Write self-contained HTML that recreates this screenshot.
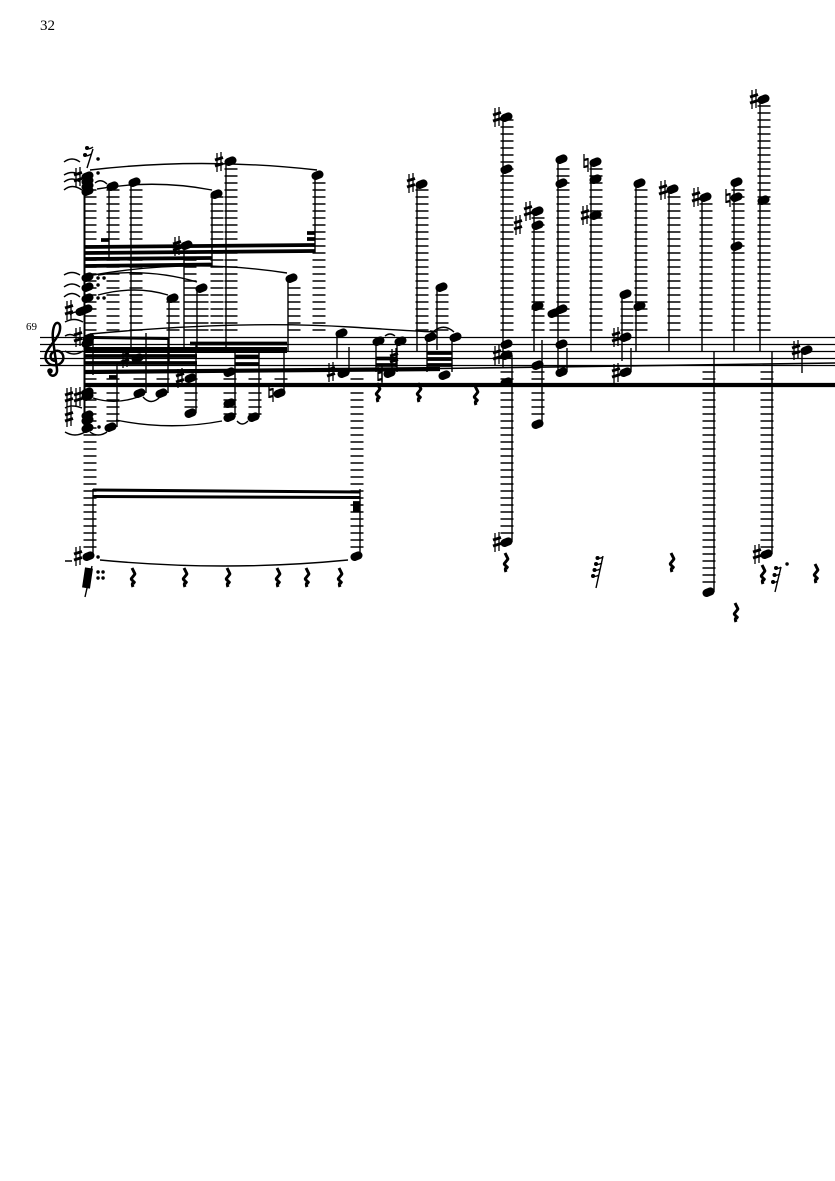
<!DOCTYPE html>
<html>
<head>
<meta charset="utf-8">
<style>
html,body{margin:0;padding:0;background:#fff}
svg{display:block}
text{font-family:"Liberation Serif",serif;fill:#000}
path{fill:none;stroke:#000}
</style>
</head>
<body>
<svg xmlns="http://www.w3.org/2000/svg" width="835" height="1181" viewBox="0 0 835 1181">
<text x="40" y="30" font-size="15">32</text>
<text x="26" y="330" font-size="11">69</text>

<!-- staff -->
<path stroke="#a0a0a0" stroke-width="1.3" d="M40 337.500H835M40 344.500H835M40 351.500H835M40 358.500H835M40 365.500H835"/>

<!-- clef -->
<path stroke-width="2.5" d="M56 361C50 361 49 355 53 352C59 348 65 354 63 360C60 367 49 367 46 360C43 352 53 344 57 337C61 331 61 324 58 323C54 322 52 331 53 340L57 369C58 377 49 378 49 371"/>
<circle cx="50" cy="371" r="2.8" fill="#000"/>

<!-- ledger columns -->
<path stroke="#444" stroke-width="13" stroke-dasharray="1.500 5.500" d="M90 189.300V331M113 189.300V331M136 189.300V331M173 301.300V331M190 252.300V331M202 294.300V331M217 196.300V331M231 168.300V331M294 287.300V331M319 182.300V331M422 189.300V331M442 294.300V331M507 119.300V331M538 217.300V331M563 168.300V331M556 315.300V331M596 168.300V331M627 301.300V331M641 189.300V331M674 196.300V331M706 203.300V331M738 189.300V331M764 105.300V331M90 371.300V550M113 378.300V422M140 378.300V380M163 378.300V380M191 378.300V408M230 378.300V415M255 378.300V415M281 378.300V380M357 378.300V550M507 371.300V536M538 371.300V415M709 371.300V586M767 371.300V548"/>

<!-- stems -->
<path stroke="#222" stroke-width="1.4" d="M109 186V258M131 182V350M212 194V266M226 161V349M315 175V253M169 298V363M184 245V349M197 288V347M288 278V351M117 427V362M146 393V333M168 393V337M196 413V345M235 417V348M259 417V352M284 393V350M337 333V359M349 347V373M376 341V372M397 341V372M382 365V382M427 337V372M452 337V372M437 287V350M417 184V351M503 117V367M512 355V542M534 211V351M542 340V424M558 159V370M567 348V372M591 162V351M622 294V361M631 348V372M636 183V351M669 189V351M702 197V351M734 182V351M760 99V351M714 351V592M772 351V554M802 350V373M93 338V375M93 489V556M360 489V556"/>
<path stroke-width="2" d="M84.500 176V428"/>

<!-- beams -->
<path stroke-width="3.800" d="M84 247L315 245M84 253L315 251M84 259L212 258M84 266L212 264.500M101 240H109M307 233H315M307 239H315M84 356H197M84 363H197M235 356.500H259M235 364H259M190 343.500H287M376 358.500H397M376 365H397M427 353H452M427 359H452M427 365H452M353 503H360M353 507H360M353 510.500H360M109 377H117"/>
<path stroke-width="3" d="M93 337.500L168 338.500M93 490L360 492M93 496.500L360 497.500"/>
<path stroke-width="6" d="M84 350H287"/>
<path stroke-width="4.200" d="M84 372L440 369M84 385H835"/>
<path stroke-width="1.600" d="M440 368.500L835 363"/>

<!-- noteheads -->
<path stroke-width="8" stroke-linecap="round" d="M85.500 177l4-1.600M85.500 182l4-1.600M85.500 187l4-1.600M85.500 192l4-1.600M110.500 187l4-1.600M132.500 183l4-1.600M214.500 195l4-1.600M228.500 162l4-1.600M315.500 176l4-1.600M184.500 246l4-1.600M170.500 299l4-1.600M199.500 289l4-1.600M289.500 279l4-1.600M85.500 278l4-1.600M85.500 288l4-1.600M85.500 299l4-1.600M79.500 312l4-1.600M84.500 310l4-1.600M86.500 339l4-1.600M85.500 344l4-1.600M137.500 394l4-1.600M159.500 394l4-1.600M85.500 393l4-1.600M85.500 397l4-1.600M135.500 359l4-1.600M108.500 428l4-1.600M85.500 429l4-1.600M85.500 416l4-1.600M85.500 421l4-1.600M188.500 379l4-1.600M188.500 414l4-1.600M227.500 373l4-1.600M227.500 404l4-1.600M227.500 418l4-1.600M251.500 418l4-1.600M277.500 394l4-1.600M339.500 334l4-1.600M341.500 374l4-1.600M376.500 342l4-1.600M398.500 342l4-1.600M387.500 374l4-1.600M428.500 338l4-1.600M453.500 338l4-1.600M442.500 376l4-1.600M439.500 288l4-1.600M419.500 185l4-1.600M86.500 557l4-1.600M354.500 557l4-1.600M504.500 118l4-1.600M504.500 170l4-1.600M504.500 345l4-1.600M504.500 356l4-1.600M504.500 383l4-1.600M504.500 543l4-1.600M535.500 212l4-1.600M535.500 226l4-1.600M535.500 307l4-1.600M535.500 366l4-1.600M535.500 425l4-1.600M559.500 160l4-1.600M559.500 184l4-1.600M559.500 310l4-1.600M551.500 314l4-1.600M559.500 345l4-1.600M559.500 373l4-1.600M593.500 163l4-1.600M593.500 180l4-1.600M593.500 216l4-1.600M623.500 295l4-1.600M623.500 338l4-1.600M623.500 373l4-1.600M637.500 184l4-1.600M637.500 307l4-1.600M670.500 190l4-1.600M703.500 198l4-1.600M734.500 183l4-1.600M734.500 198l4-1.600M734.500 247l4-1.600M761.500 100l4-1.600M761.500 201l4-1.600M706.500 593l4-1.600M764.500 555l4-1.600M804.500 351l4-1.600"/>

<!-- sharps -->
<path stroke-width="1.300" d="M217 153v19m4-20v19M175 237v19m4-20v19M76 168v19m4-20v19M67 301v19m4-20v19M76 328v19m4-20v19M67 388v19m4-20v19M76 388v19m4-20v19M67 408v19m4-20v19M123 349v19m4-20v19M178 369v19m4-20v19M329 363v19m4-20v19M392 349v19m4-20v19M495 108v19m4-20v19M495 346v19m4-20v19M495 533v19m4-20v19M526 202v19m4-20v19M516 216v19m4-20v19M583 206v19m4-20v19M614 328v19m4-20v19M614 364v19m4-20v19M661 181v19m4-20v19M694 188v19m4-20v19M752 90v19m4-20v19M794 341v19m4-20v19M755 545v19m4-20v19M76 547v19m4-20v19M409 174v19m4-20v19"/>
<path stroke-width="3" d="M215 160l8-2.500m-8 8.500l8-2.500M173 244l8-2.500m-8 8.500l8-2.500M74 175l8-2.500m-8 8.500l8-2.500M65 308l8-2.500m-8 8.500l8-2.500M74 335l8-2.500m-8 8.500l8-2.500M65 395l8-2.500m-8 8.500l8-2.500M74 395l8-2.500m-8 8.500l8-2.500M65 415l8-2.500m-8 8.500l8-2.500M121 356l8-2.500m-8 8.500l8-2.500M176 376l8-2.500m-8 8.500l8-2.500M327 370l8-2.500m-8 8.500l8-2.500M390 356l8-2.500m-8 8.500l8-2.500M493 115l8-2.500m-8 8.500l8-2.500M493 353l8-2.500m-8 8.500l8-2.500M493 540l8-2.500m-8 8.500l8-2.500M524 209l8-2.500m-8 8.500l8-2.500M514 223l8-2.500m-8 8.500l8-2.500M581 213l8-2.500m-8 8.500l8-2.500M612 335l8-2.500m-8 8.500l8-2.500M612 371l8-2.500m-8 8.500l8-2.500M659 188l8-2.500m-8 8.500l8-2.500M692 195l8-2.500m-8 8.500l8-2.500M750 97l8-2.500m-8 8.500l8-2.500M792 348l8-2.500m-8 8.500l8-2.500M753 552l8-2.500m-8 8.500l8-2.500M74 554l8-2.500m-8 8.500l8-2.500M407 181l8-2.500m-8 8.500l8-2.500"/>

<!-- naturals -->
<path stroke-width="1.300" d="M269 384v14M273 388v14M378 367v14M382 371v14M584 154v14M588 158v14M726 189v14M730 193v14"/>
<path stroke-width="2.400" d="M269 390l4-1M269 397l4-1M378 373l4-1M378 380l4-1M584 160l4-1M584 167l4-1M726 195l4-1M726 202l4-1"/>

<!-- rests -->
<path stroke-width="3" stroke-linejoin="bevel" d="M132 568l3 6-4 5 4 4q-4-1-2 4M184 568l3 6-4 5 4 4q-4-1-2 4M227 568l3 6-4 5 4 4q-4-1-2 4M277 568l3 6-4 5 4 4q-4-1-2 4M306 568l3 6-4 5 4 4q-4-1-2 4M339 568l3 6-4 5 4 4q-4-1-2 4M377 383l3 6-4 5 4 4q-4-1-2 4M418 383l3 6-4 5 4 4q-4-1-2 4M475 386l3 6-4 5 4 4q-4-1-2 4M505 553l3 6-4 5 4 4q-4-1-2 4M671 553l3 6-4 5 4 4q-4-1-2 4M762 565l3 6-4 5 4 4q-4-1-2 4M735 603l3 6-4 5 4 4q-4-1-2 4M815 564l3 6-4 5 4 4q-4-1-2 4"/>

<!-- flagged rests -->
<path stroke-width="1.400" d="M93 149L87 168M92 566L85 597M603 556L596 588M781 567L775 592M86 148q3 2 7-1M84 155q3 2 7-1M598 558q2 1 5-1M597 564q2 1 5-1M595 570q2 1 5-1M594 576q2 1 5-1M777 568q2 1 4-1M775 575q2 1 5-1M773 582q2 1 5-1"/>
<path stroke-width="8" d="M89 568L86 588"/>
<path stroke-width="4" stroke-linecap="round" d="M87 148h.1M85 155h.1M597.500 558h.1M596 564h.1M594.500 570h.1M593 576h.1M776 568h.1M774.500 575h.1M773 582h.1"/>
<path stroke-width="3.400" stroke-linecap="round" d="M98 159h.1M98 173h.1M98 278h.1M98 285h.1M104 278h.1M98 298h.1M104 298h.1M98 557h.1M98 572h.1M103 572h.1M98 578h.1M103 578h.1M787 564h.1M99 427h.1"/>

<!-- slurs and ties -->
<path stroke-width="1.400" d="M90 170Q200 157 317 170M97 189Q155 179 212 190M93 275Q190 258 287 273M98 275Q150 268 197 282M98 295Q135 285 168 295M90 334Q240 320 350 327T430 331M100 560Q225 572 348 560M93 398Q115 405 138 397M143 397Q151 406 160 397M116 420Q170 431 222 421M237 421Q242 427 248 421M385 336Q390 332 395 336M434 331Q444 323 454 332M64 162Q72 156 80 162M64 175Q72 170 80 175M64 182Q72 176 80 182M64 190Q72 183 82 190M95 183Q101 178 107 184M64 275Q72 270 80 275M64 287Q72 281 80 287M64 297Q72 290 80 297M70 315Q76 309 83 315M65 322Q74 317 83 322M65 336Q70 333 75 336M65 351Q74 357 83 351M65 408Q72 404 82 408M65 432Q75 438 85 432M90 432Q98 438 107 432M65 561H72"/>
</svg>
</body>
</html>
